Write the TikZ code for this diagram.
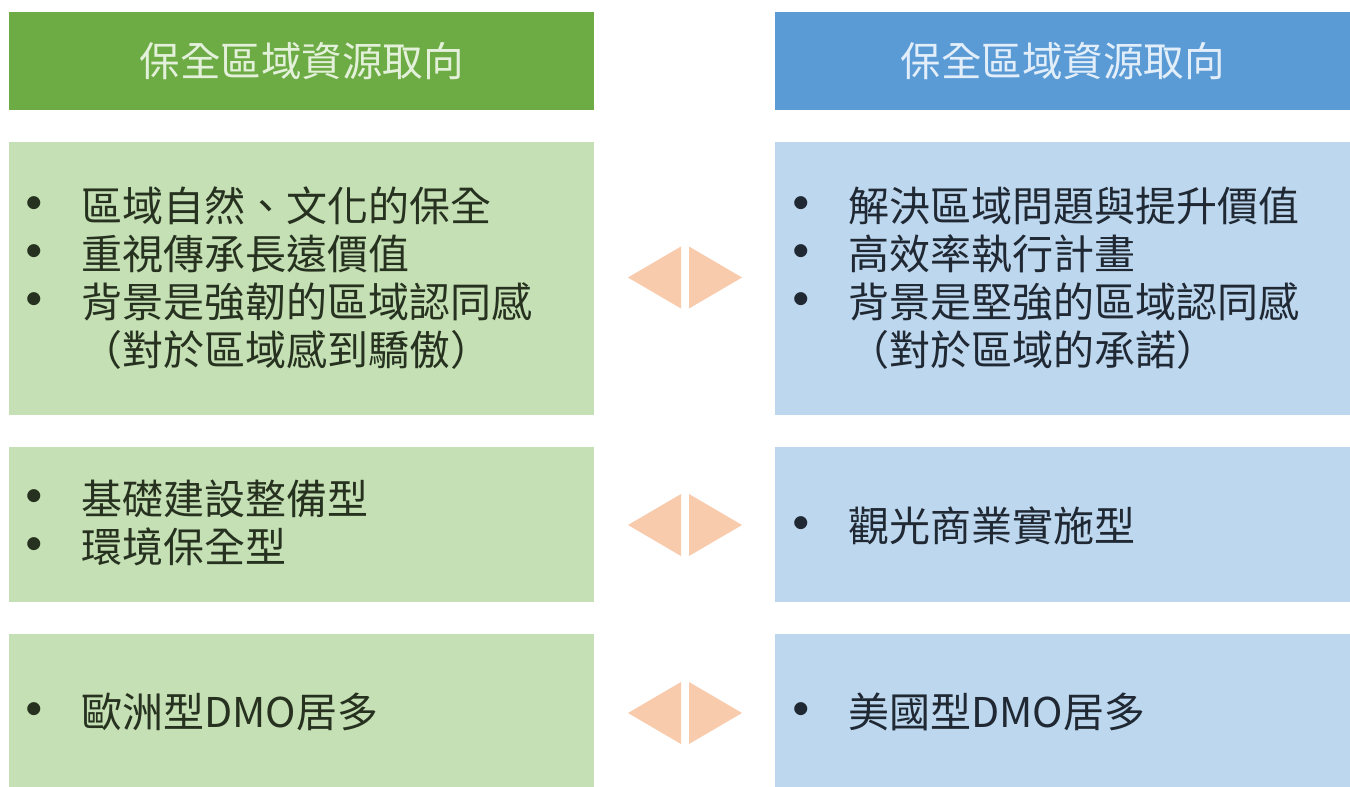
\documentclass[tikz,border=0pt]{standalone}
\usepackage{fontspec}
\setmainfont{Noto Sans CJK TC}
\definecolor{hdrgreen}{HTML}{6DAB45}
\definecolor{hdrblue}{HTML}{5B9BD5}
\definecolor{boxgreen}{HTML}{C5E0B4}
\definecolor{boxblue}{HTML}{BDD7EE}
\definecolor{arrowc}{HTML}{F8CBAD}
\definecolor{hdrtxtg}{HTML}{E4F1DA}
\definecolor{hdrtxtb}{HTML}{E2EEF9}
\definecolor{txtg}{HTML}{26311F}
\definecolor{txtb}{HTML}{1F2833}
\newcommand{\bl}[1]{\makebox[0pt][c]{\raisebox{-5pt}{\scalebox{1.5}{•}}}\hspace{47pt}#1}
\newcommand{\nb}[1]{\hspace{47pt}#1}
\tikzset{
  hdrbox/.style={rectangle, inner sep=0pt, minimum height=98pt, font=\fontsize{40.5}{48}\selectfont},
  bodybox/.style={rectangle, inner sep=0pt},
  bodytxt/.style={anchor=west, inner sep=0pt, align=left, font=\fontsize{41}{48}\selectfont},
  arrowtri/.style={fill=arrowc, draw=none}
}
\begin{document}
\begin{tikzpicture}[x=1pt,y=-1pt]
\useasboundingbox (0,0) rectangle (1350,787);
\fill[white] (0,0) rectangle (1350,787);
% headers
\node[hdrbox, fill=hdrgreen, text=hdrtxtg, minimum width=585pt] (hl) at (301.5,61) {保全區域資源取向};
\node[hdrbox, fill=hdrblue, text=hdrtxtb, minimum width=575pt] (hr) at (1062.5,61) {保全區域資源取向};
% row boxes
\node[bodybox, fill=boxgreen, minimum width=585pt, minimum height=273pt] (b1l) at (301.5,278.5) {};
\node[bodybox, fill=boxblue, minimum width=575pt, minimum height=273pt] (b1r) at (1062.5,278.5) {};
\node[bodybox, fill=boxgreen, minimum width=585pt, minimum height=155pt] (b2l) at (301.5,524.5) {};
\node[bodybox, fill=boxblue, minimum width=575pt, minimum height=155pt] (b2r) at (1062.5,524.5) {};
\node[bodybox, fill=boxgreen, minimum width=585pt, minimum height=153pt] (b3l) at (301.5,710.5) {};
\node[bodybox, fill=boxblue, minimum width=575pt, minimum height=153pt] (b3r) at (1062.5,710.5) {};
% texts
\node[bodytxt, text=txtg] (t1l) at (34,278) {\bl{區域自然、文化的保全}\\\bl{重視傳承長遠價值}\\\bl{背景是強韌的區域認同感}\\\nb{（對於區域感到驕傲）}};
\node[bodytxt, text=txtb] (t1r) at (801,278) {\bl{解決區域問題與提升價值}\\\bl{高效率執行計畫}\\\bl{背景是堅強的區域認同感}\\\nb{（對於區域的承諾）}};
\node[bodytxt, text=txtg] (t2l) at (34,524) {\bl{基礎建設整備型}\\\bl{環境保全型}};
\node[bodytxt, text=txtb] (t2r) at (801,527) {\bl{觀光商業實施型}};
\node[bodytxt, text=txtg] (t3l) at (34,713) {\bl{歐洲型DMO居多}};
\node[bodytxt, text=txtb] (t3r) at (801,713) {\bl{美國型DMO居多}};
% double arrows
\coordinate (a1) at (685,277.5);
\coordinate (a2) at (685,525);
\coordinate (a3) at (685,713);
\foreach \c in {a1,a2,a3}{
  \fill[arrowtri, shift={(\c)}] (-4,-31) -- (-57,0) -- (-4,31) -- cycle;
  \fill[arrowtri, shift={(\c)}] (4,-31) -- (57,0) -- (4,31) -- cycle;
}
\end{tikzpicture}
\end{document}
